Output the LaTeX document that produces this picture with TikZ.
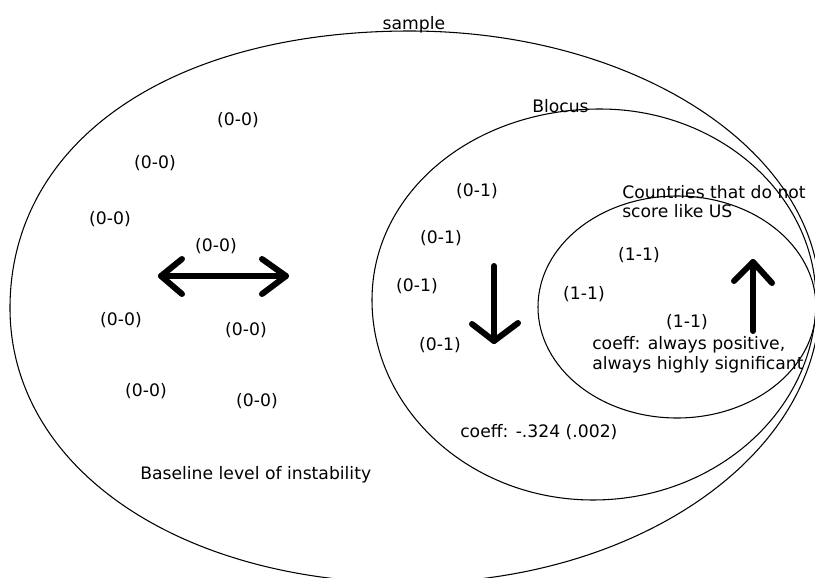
\documentclass[tikz,border=0pt]{standalone}
\usepackage{fontspec}
\setmainfont{DejaVu Sans}
\begin{document}
\begin{tikzpicture}[x=0.75pt,y=-0.75pt,
  lbl/.style={inner sep=0pt, font=\fontsize{12.9pt}{15pt}\selectfont},
  outline/.style={line width=0.8pt},
  bigarrow/.style={line width=4.5pt, line cap=round, line join=round}]
\useasboundingbox (0,0) rectangle (815,578);
\clip (0,0) rectangle (815,578);
\fill[white] (0,0) rectangle (815,578);

% sample
\draw[outline] (10,308) .. controls (10,142) and (170,31) .. (410,31)
  .. controls (636,31) and (820,151) .. (820,300)
  .. controls (820,456) and (636,583) .. (410,583)
  .. controls (178,583) and (10,467) .. (10,308) -- cycle;

% Blocus
\draw[outline] (372,300) .. controls (372,193) and (472,109) .. (600,109)
  .. controls (719,109) and (816,195) .. (816,300)
  .. controls (816,410) and (716,500) .. (593,500)
  .. controls (471,500) and (372,410) .. (372,300) -- cycle;

% inner
\draw[outline] (677,307) ellipse [x radius=104.25pt, y radius=83.25pt];

% labels
\node[lbl, anchor=base] (sample) at (414,29) {sample};
\node[lbl, anchor=base west] (blocus) at (532,112) {Blocus};
\node[lbl, anchor=base west] (countries1) at (622,198) {Countries that do not};
\node[lbl, anchor=base west] (countries2) at (622,217) {score like US};

\node[lbl] (z1) at (238,120) {(0-0)};
\node[lbl] (z2) at (155,163) {(0-0)};
\node[lbl] (z3) at (110,219) {(0-0)};
\node[lbl] (z4) at (216,246) {(0-0)};
\node[lbl] (z5) at (121,320) {(0-0)};
\node[lbl] (z6) at (246,330) {(0-0)};
\node[lbl] (z7) at (146,391) {(0-0)};
\node[lbl] (z8) at (257,401) {(0-0)};
\node[lbl, anchor=base west] (baseline) at (140,479) {Baseline level of instability};

\node[lbl] (b1) at (477,191) {(0-1)};
\node[lbl] (b2) at (441,238) {(0-1)};
\node[lbl] (b3) at (417,286) {(0-1)};
\node[lbl] (b4) at (440,345) {(0-1)};
\node[lbl, anchor=base west] (coeffb) at (460,437) {coeff: -.324 (.002)};

\node[lbl] (c1) at (639,255) {(1-1)};
\node[lbl] (c2) at (584,294) {(1-1)};
\node[lbl] (c3) at (687,322) {(1-1)};
\node[lbl, anchor=base west] (coeffc1) at (592,349) {coeff: always positive,};
\node[lbl, anchor=base west] (coeffc2) at (592,369) {always highly significant};

% arrows
\coordinate (dL) at (161,276);
\coordinate (dR) at (286,276);
\draw[bigarrow] (dL) -- (dR);
\draw[bigarrow] (182,259) -- (dL) -- (182,294);
\draw[bigarrow] (262,259) -- (dR) -- (262,294);

\coordinate (downTop) at (494,266);
\coordinate (downTip) at (494,341);
\draw[bigarrow] (downTop) -- (downTip);
\draw[bigarrow] (472,324) -- (downTip) -- (518,323);

\coordinate (upBot) at (753,331);
\coordinate (upTip) at (753,262);
\draw[bigarrow] (upBot) -- (upTip);
\draw[bigarrow] (734,281) -- (upTip) -- (772,283);
\end{tikzpicture}
\end{document}
